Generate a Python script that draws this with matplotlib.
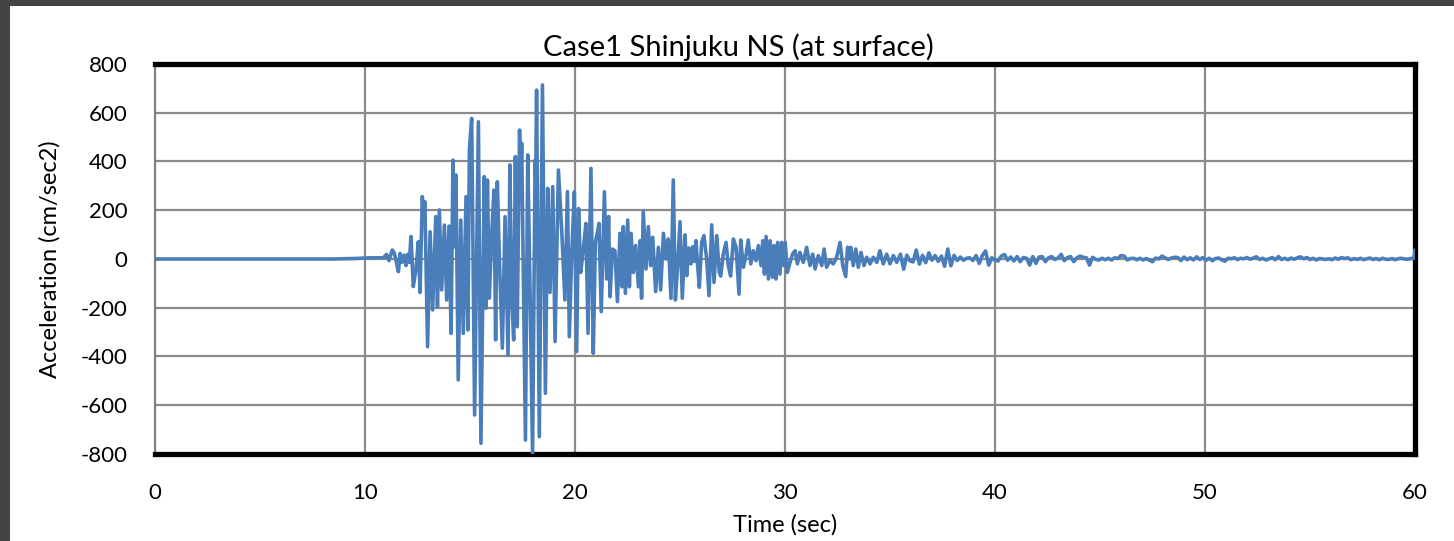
import matplotlib.pyplot as plt
import numpy as np
from matplotlib.patches import Rectangle

plt.rcParams['font.family'] = ['Lato', 'DejaVu Sans']
plt.rcParams['axes.unicode_minus'] = False

# quiet record before the arrival
pre_t = [0.0, 8.5, 9.5, 10.3, 10.87]
pre_a = [0, 0, 2, 5, 5]

# onset, 11 - 14 s
onset_t = [11.03, 11.14, 11.3, 11.4, 11.48, 11.59, 11.67, 11.75, 11.86, 11.95,
           12.03, 12.11, 12.19, 12.3, 12.43, 12.54, 12.62, 12.73, 12.79, 12.85,
           12.98, 13.1, 13.22, 13.37, 13.45, 13.54, 13.65, 13.78, 13.89]
onset_a = [19, -7, 37, 23, -7, -52, 23, -14, 16, -27,
           19, -14, 92, -113, -40, 71, -137, 256, 170, 235,
           -360, 112, -209, 174, -196, 201, -127, 139, -168]

# main shock, 14 - 20.2 s
main_t = [14.0, 14.1, 14.19, 14.24, 14.33, 14.44, 14.56, 14.68, 14.81, 14.9,
          14.97, 15.08, 15.22, 15.4, 15.52, 15.68, 15.76, 15.83, 15.92, 16.03,
          16.14, 16.22, 16.3, 16.4, 16.54, 16.67, 16.81, 16.9, 16.98, 17.08,
          17.16, 17.25, 17.36, 17.41, 17.46, 17.64, 17.75, 17.86, 17.98, 18.1,
          18.13, 18.17, 18.3, 18.45, 18.59, 18.7, 18.81, 18.94, 19.05, 19.21,
          19.37, 19.52, 19.64, 19.73, 19.85, 19.97, 20.08, 20.17]
main_a = [135, -305, 406, 50, 345, -496, 160, -305, 256, -291,
          447, 577, -640, 563, -756, 338, -202, 324, -161, 92,
          283, -332, 317, 0, -366, 174, -394, 386, -137, -332,
          420, -278, 529, 300, 475, -743, 427, -137, -804, 406,
          330, 693, -729, 714, -551, 290, -137, 297, -339, 365,
          112, -168, 276, -319, 35, 276, -380, 207]

# decaying part, 20.2 - 26.9 s
late_t = [20.27, 20.4, 20.52, 20.62, 20.76, 20.87, 20.97, 21.06, 21.14, 21.25,
          21.4, 21.51, 21.6, 21.67, 21.78, 21.9, 22.02, 22.14, 22.24, 22.3,
          22.4, 22.51, 22.59, 22.67, 22.78, 22.89, 23.02, 23.1, 23.17, 23.25,
          23.38, 23.49, 23.6, 23.7, 23.84, 23.97, 24.08, 24.21, 24.33, 24.44,
          24.57, 24.68, 24.78, 24.89, 25.0, 25.11, 25.24, 25.32, 25.42, 25.52,
          25.6, 25.68, 25.76, 25.84, 25.92, 26.03, 26.14, 26.27, 26.38, 26.51,
          26.62, 26.75, 26.87]
late_a = [-55, 41, 146, -305, 372, -387, 71, 105, 146, -216,
          276, -82, 174, -155, 41, 34, -175, 105, -114, 133,
          -141, 160, -114, 105, -55, 55, -114, 75, -161, 194,
          -41, 133, -27, 89, -134, 48, -127, 105, 0, 82,
          -161, 324, -168, -27, 153, -161, 99, -68, 45, -20,
          50, -10, 75, -27, -116, 68, 96, 0, -150, 140,
          -96, 96, -55]

# 27 - 35.3 s
after_t = [26.94, 27.06, 27.19, 27.3, 27.41, 27.54, 27.67, 27.81, 27.89, 28.02,
           28.14, 28.25, 28.37, 28.49, 28.62, 28.73, 28.86, 28.94, 29.02, 29.1,
           29.21, 29.29, 29.4, 29.48, 29.57, 29.65, 29.76, 29.84, 29.95, 30.01,
           30.11, 30.24, 30.36, 30.48, 30.59, 30.71, 30.87, 31.03, 31.19, 31.32,
           31.43, 31.59, 31.75, 31.86, 31.98, 32.14, 32.3, 32.46, 32.62, 32.75,
           32.89, 32.98, 33.06, 33.13, 33.25, 33.37, 33.49, 33.62, 33.76, 33.89,
           34.05, 34.21, 34.37, 34.52, 34.68, 34.84, 35.0, 35.16, 35.32]
after_a = [-70, 20, 68, -27, -70, 82, 48, -144, 78, -34,
           14, 78, -20, 34, -7, 55, -27, 75, -62, 92,
           -82, 75, -75, 55, -82, 68, -62, 68, -27, 68,
           -55, -14, 20, 34, -20, 27, -14, 48, -27, 20,
           -41, 14, -27, 41, -34, -7, -20, 7, 68, -27,
           -72, 48, 0, 48, -27, 41, -34, 27, -27, 7,
           -20, 7, -14, 34, -20, 20, -20, 14, -14]

# coda, sampled every 0.15 s from 35.5 s
coda_a = [20, -42, 16, -8, -12, 37, -21, 15, -15, 25,
          -5, 14, -10, 12, -30, 41, -28, 15, -6, 8,
          -5, 3, 5, -6, 14, -18, 15, 33, -25, 5,
          -5,
          -8, 12, 18, -5, 8, -8, 10, -11, 6, 3,
          -25, 10, -18, 8, 10, -11, 5, 10, -2, 4,
          19, -7, 6, 10, -11, 5, 12, 7, 5, -25,
          7, -2, -4,
          3, -3, 3, -4, 5, 2, 14, 12, -4, 2,
          3, -3, 3, -4, 2, -5, -11, 4, 0, 12,
          5, -2, 4, 7, 6,
          -6, 8, -3, 5, -4, 9, -2, 6, -5, 3,
          -7, 2, 4, -3, -9, 3, 1, 5, -2, 3,
          1, 6, -1, 4, 9, -2, 3, -4, 1, 6,
          -3, 10, -2, 3, -3, 4, -1, 5, 9, 1,
          6, -2, 3, -4, 2, 0, -2, 1, -3, 4,
          -1, 6, 2, 5, -3, 2, -2, 3, -3, 1,
          4, -2, 2, -3, 3, -1, -2, 2, -3, 1,
          3, 0, -1, 2, 3]
coda_t = np.linspace(35.5, 59.95, len(coda_a))

end_t = [60.0]
end_a = [35]

t = np.concatenate([pre_t, onset_t, main_t, late_t, after_t, coda_t, end_t])
acc = np.concatenate([pre_a, onset_a, main_a, late_a, after_a, coda_a, end_a])

W, H = 1454, 541
fig = plt.figure(figsize=(W / 100, H / 100), dpi=100, facecolor='#444444')
fig.patches.append(Rectangle((10 / W, 0), 1, 1 - 6 / H, transform=fig.transFigure,
                             facecolor='white', edgecolor='none', zorder=-5))

ax = fig.add_axes([155 / W, 1 - 454 / H, 1260 / W, 390 / H])
ax.set_zorder(2)
ax.plot(t, acc, color='#4a7ebb', lw=2.6, zorder=3)

ax.set_xlim(0, 60)
ax.set_ylim(-800, 800)
ax.set_xticks(range(0, 61, 10))
ax.set_yticks(range(-800, 801, 200))
ax.grid(True, color='#8a8a8a', lw=1.6)
ax.set_axisbelow(True)
ax.tick_params(length=0, labelsize=16, colors='black')
ax.tick_params(axis='x', pad=21)
ax.tick_params(axis='y', pad=20)

for side in ['top', 'right', 'bottom']:
    ax.spines[side].set_linewidth(3.8)
    ax.spines[side].set_color('black')
ax.spines['left'].set_linewidth(1.5)
ax.spines['left'].set_color('#808080')

ax.set_xlabel('Time (sec)', fontsize=17, labelpad=8)
ax.set_ylabel('Acceleration (cm/sec2)', fontsize=17, labelpad=14)
fig.text(738 / W, 1 - 47 / H, 'Case1 Shinjuku NS (at surface)', fontsize=21,
         ha='center', va='center', zorder=3)

fig.savefig('out.png', dpi=100, facecolor=fig.get_facecolor())
